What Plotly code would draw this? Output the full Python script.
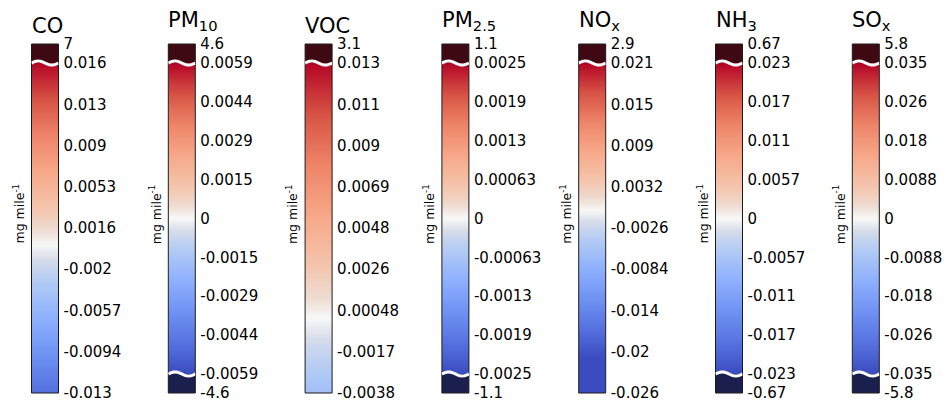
import numpy as np
import plotly.graph_objects as go

# species shown above each colour bar
species = ["CO", "PM<sub>10</sub>", "VOC", "PM<sub>2.5</sub>",
           "NO<sub>x</sub>", "NH<sub>3</sub>", "SO<sub>x</sub>"]

# tick labels of the main (linear) part of each bar, top to bottom
co_ticks = ["0.016", "0.013", "0.009", "0.0053", "0.0016", "-0.002", "-0.0057", "-0.0094", "-0.013"]
pm10_ticks = ["0.0059", "0.0044", "0.0029", "0.0015", "0", "-0.0015", "-0.0029", "-0.0044", "-0.0059"]
voc_ticks = ["0.013", "0.011", "0.009", "0.0069", "0.0048", "0.0026", "0.00048", "-0.0017", "-0.0038"]
pm25_ticks = ["0.0025", "0.0019", "0.0013", "0.00063", "0", "-0.00063", "-0.0013", "-0.0019", "-0.0025"]
nox_ticks = ["0.021", "0.015", "0.009", "0.0032", "-0.0026", "-0.0084", "-0.014", "-0.02", "-0.026"]
nh3_ticks = ["0.023", "0.017", "0.011", "0.0057", "0", "-0.0057", "-0.011", "-0.017", "-0.023"]
sox_ticks = ["0.035", "0.026", "0.018", "0.0088", "0", "-0.0088", "-0.018", "-0.026", "-0.035"]
main_ticks = [co_ticks, pm10_ticks, voc_ticks, pm25_ticks, nox_ticks, nh3_ticks, sox_ticks]

# values of the out-of-range extension segments (None = no extension)
top_ext = ["7", "4.6", "3.1", "1.1", "2.9", "0.67", "5.8"]
bottom_ext = [None, "-4.6", None, "-1.1", None, "-0.67", "-5.8"]

unit_label = "mg mile<sup>-1</sup>"

# ---- styling / geometry (pixels) ----
W, H = 946, 402
BAR_LEFT0, BAR_STEP, BAR_W = 31.5, 136.8, 27
BAR_TOP, BAR_BOTTOM = 44, 393
EXT_PX = 19
FONT = "DejaVu Sans"
TOP_COLOR = "#3f0914"
BOTTOM_COLOR = "#1b1f4e"

coolwarm_white = [
    [0.0, "#3b4cc0"], [0.1, "#5572df"], [0.2, "#6f92f3"], [0.3, "#8db0fe"],
    [0.4, "#b3cbf4"], [0.46, "#d6dcea"], [0.5, "#f7f7f7"], [0.54, "#eedcd2"],
    [0.6, "#f4c5ad"], [0.7, "#f7a889"], [0.8, "#ee8468"], [0.9, "#d65244"],
    [1.0, "#b40426"],
]

fig = go.Figure()
shapes, annotations = [], []
layout = {}

for i, name in enumerate(species):
    k = "" if i == 0 else str(i + 1)
    xa, ya = f"x{k}", f"y{k}"
    labels = main_ticks[i]
    hi, lo = float(labels[0]), float(labels[-1])
    has_top = top_ext[i] is not None
    has_bot = bottom_ext[i] is not None
    main_px = (BAR_BOTTOM - BAR_TOP) - EXT_PX * (has_top + has_bot)
    u = (hi - lo) / main_px  # value per pixel
    y_top = hi + EXT_PX * u if has_top else hi
    y_bot = lo - EXT_PX * u if has_bot else lo

    # colour limits symmetric about zero, set by the upper end of the bar
    yy = np.linspace(lo, hi, 300)
    fig.add_trace(go.Heatmap(
        z=yy.reshape(-1, 1), y=yy, x0=0.5, dx=1,
        colorscale=coolwarm_white, zmin=-hi, zmax=hi, showscale=False,
        hoverinfo="skip", xaxis=xa, yaxis=ya,
    ))

    tickvals = list(np.linspace(hi, lo, len(labels)))
    ticktext = list(labels)
    if has_top:
        tickvals.append(y_top)
        ticktext.append(top_ext[i])
    if has_bot:
        tickvals.append(y_bot)
        ticktext.append(bottom_ext[i])

    left = BAR_LEFT0 + i * BAR_STEP
    eps = (y_top - y_bot) * 1e-4
    layout[f"xaxis{k}"] = dict(domain=[left / W, (left + BAR_W) / W], range=[0, 1],
                               visible=False, fixedrange=True, anchor=ya,
                               automargin=False)
    layout[f"yaxis{k}"] = dict(domain=[1 - BAR_BOTTOM / H, 1 - BAR_TOP / H],
                               range=[y_bot - eps, y_top + eps], anchor=xa, side="right",
                               showgrid=False, zeroline=False, showline=False, ticks="",
                               tickmode="array", tickvals=tickvals, ticktext=ticktext,
                               tickfont=dict(family=FONT, size=15, color="black"),
                               ticklabelstandoff=4, ticklabeloverflow="allow",
                               automargin=False, fixedrange=True)

    # extension segments
    if has_top:
        shapes.append(dict(type="rect", xref=f"{xa} domain", yref=ya, x0=0, x1=1,
                           y0=hi, y1=y_top, fillcolor=TOP_COLOR, line_width=0, layer="above"))
    if has_bot:
        shapes.append(dict(type="rect", xref=f"{xa} domain", yref=ya, x0=0, x1=1,
                           y0=y_bot, y1=lo, fillcolor=BOTTOM_COLOR, line_width=0, layer="above"))
    # outline
    shapes.append(dict(type="rect", xref=f"{xa} domain", yref=f"{ya} domain", x0=0, x1=1,
                       y0=0, y1=1, line=dict(color="#1a1a1a", width=1), layer="above"))
    # white wavy break lines
    xs = np.linspace(0, 1, 31)
    for yb, on in ((hi, has_top), (lo, has_bot)):
        if not on:
            continue
        ys = yb + 2.0 * u * np.sin(2 * np.pi * xs)
        path = "M " + " L ".join(f"{x:.4f},{y:.8f}" for x, y in zip(xs, ys))
        shapes.append(dict(type="path", xref=xa, yref=ya, path=path,
                           line=dict(color="white", width=3), layer="above"))

    # titles with a subscript sit a little higher (bottom-aligned like matplotlib)
    title_y = 21 if "<sub>" in name else 26
    annotations.append(dict(text=name, xref=f"{xa} domain", x=0, xanchor="left", xshift=-2,
                            yref="paper", y=1 - title_y / H, yanchor="middle", showarrow=False,
                            font=dict(family=FONT, size=21, color="black")))
    annotations.append(dict(text=unit_label, xref=f"{xa} domain", x=0, xanchor="center",
                            xshift=-13, yref="paper", y=1 - 214 / H, yanchor="middle",
                            textangle=-90, showarrow=False,
                            font=dict(family=FONT, size=12.5, color="black")))

fig.update_layout(
    width=W, height=H, margin=dict(l=0, r=0, t=0, b=0, autoexpand=False),
    paper_bgcolor="white", plot_bgcolor="white", showlegend=False,
    shapes=shapes, annotations=annotations, **layout,
)

fig.write_html("out.html", config={"displayModeBar": False},
               post_script="document.body.style.margin='0';"
                           "document.body.style.overflow='hidden';")
